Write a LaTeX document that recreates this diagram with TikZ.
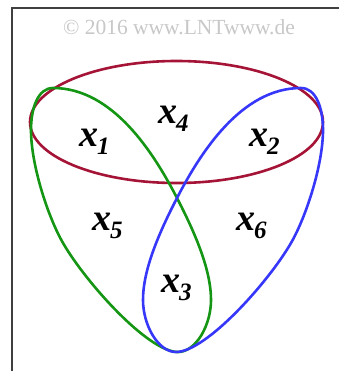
\documentclass[tikz,border=0pt]{standalone}
\usepackage{fontspec}
\setmainfont{Liberation Serif}
\definecolor{lntred}{RGB}{165,20,55}
\definecolor{lntgreen}{RGB}{20,150,20}
\definecolor{lntblue}{RGB}{55,55,250}
\definecolor{copygray}{RGB}{200,200,200}
\newcommand\lablx[1]{\fontsize{38}{40}\selectfont\bfseries\itshape x\kern-1pt\raisebox{-8pt}{\fontsize{25}{26}\selectfont #1}}
\begin{document}
\begin{tikzpicture}[x=1pt,y=-1pt,
  setline/.style={line width=2.6pt},
  lab/.style={inner sep=0pt, anchor=base west}]
\useasboundingbox (0,0) rectangle (339,371);
\fill[white] (0,0) rectangle (339,371);
\draw[line width=2pt, black!75] (12,371) -- (12,8) -- (339,8);
\node[inner sep=0pt, anchor=base, text=copygray, font=\fontsize{21.5}{22}\selectfont] (copy) at (179,35) {© 2016 www.LNTwww.de};
\draw[setline, lntred] (176.5,122) ellipse [x radius=146.5, y radius=61];
\draw[setline, lntgreen] (53,88) .. controls (113,88) and (154,153.5) .. (177,198)
  .. controls (195.4,233.6) and (211,270) .. (211,300)
  .. controls (211,325) and (196,352) .. (178,352)
  .. controls (148,352) and (85.5,282) .. (63,243)
  .. controls (48,217) and (31,165) .. (31,130)
  .. controls (31,108) and (38,88) .. (53,88) -- cycle;
\draw[setline, lntblue] (301,88) .. controls (241,88) and (200,153.5) .. (177,198)
  .. controls (158.6,233.6) and (143,270) .. (143,300)
  .. controls (143,325) and (158,352) .. (176,352)
  .. controls (206,352) and (268.5,282) .. (291,243)
  .. controls (306,217) and (323,165) .. (323,130)
  .. controls (323,108) and (316,88) .. (301,88) -- cycle;
\node[lab] (x1) at (79,147) {\lablx{1}};
\node[lab] (x4) at (158,124) {\lablx{4}};
\node[lab] (x2) at (249,147) {\lablx{2}};
\node[lab] (x5) at (92,230) {\lablx{5}};
\node[lab] (x6) at (236,230) {\lablx{6}};
\node[lab] (x3) at (161,292) {\lablx{3}};
\end{tikzpicture}
\end{document}
